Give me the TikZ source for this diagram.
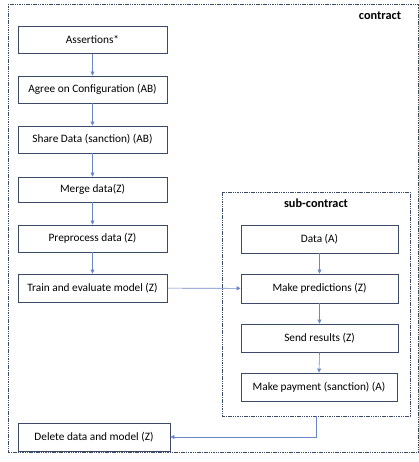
\documentclass[tikz,border=0pt]{standalone}
\usepackage{fontspec}
\setmainfont{Carlito}
\usetikzlibrary{arrows.meta,positioning}
\definecolor{boxline}{HTML}{3B4A66}
\definecolor{arrowc}{HTML}{6A86C8}
\tikzset{
  stepbox/.style={draw=boxline, line width=0.9pt, minimum height=27pt, inner sep=0pt, font=\fontsize{11.3}{13}\selectfont, fill=white},
  flow/.style={draw=arrowc, line width=0.6pt, -{Triangle[width=4pt,length=4pt]}},
  group/.style={draw=boxline, line width=0.6pt, dash pattern=on 1.5pt off 0.8pt},
  grouplabel/.style={font=\bfseries\fontsize{12.3}{14}\selectfont}
}
\begin{document}
\begin{tikzpicture}[x=1pt,y=-1pt]
\useasboundingbox (0,0) rectangle (419,462);
\draw[group] (8,4) rectangle (418.5,452);
\node[grouplabel] (lc) at (380,16) {contract};
\draw[group] (222,192) rectangle (410,416);
\node[grouplabel] (ls) at (316,203) {sub-contract};
\coordinate (sub) at (316,416);

\node[stepbox, minimum width=149pt] (a1) at (92.5,40) {Assertions*};
\node[stepbox, minimum width=149pt] (a2) at (92.5,89.5) {Agree on Configuration (AB)};
\node[stepbox, minimum width=149pt] (a3) at (92.5,139.5) {Share Data (sanction) (AB)};
\node[stepbox, minimum width=149pt, minimum height=25pt] (a4) at (92.5,189.5) {Merge data(Z)};
\node[stepbox, minimum width=149pt] (a5) at (92.5,238.5) {Preprocess data (Z)};
\node[stepbox, minimum width=149pt, minimum height=28pt] (a6) at (92.5,288) {Train and evaluate model (Z)};
\node[stepbox, minimum width=152pt, minimum height=28pt] (a7) at (94,437) {Delete data and model (Z)};

\node[stepbox, minimum width=157pt, minimum height=28pt] (b1) at (319.5,239) {Data (A)};
\node[stepbox, minimum width=157pt, minimum height=29pt] (b2) at (319.5,288.5) {Make predictions (Z)};
\node[stepbox, minimum width=157pt, minimum height=28pt] (b3) at (319.5,338) {Send results (Z)};
\node[stepbox, minimum width=156pt, minimum height=28pt] (b4) at (319,387) {Make payment (sanction) (A)};

\draw[flow] (a1) -- (a2);
\draw[flow] (a2) -- (a3);
\draw[flow] (a3) -- (a4);
\draw[flow] (a4) -- (a5);
\draw[flow] (a5) -- (a6);
\draw[flow] (a6) -- (b2);
\draw[flow] (b1) -- (b2);
\draw[flow] (b2) -- (b3);
\draw[flow] (b3.south) -- (b4.north);
\draw[flow] (sub) |- (a7.east);
\end{tikzpicture}
\end{document}
